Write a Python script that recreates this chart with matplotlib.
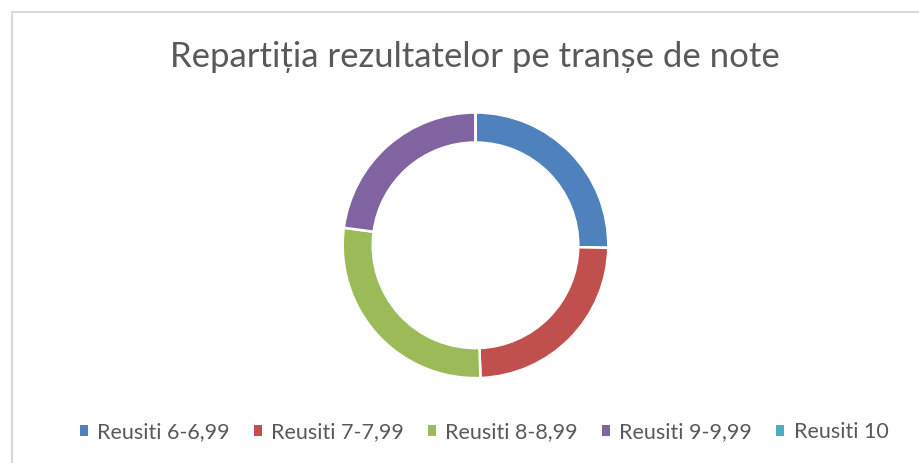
import matplotlib
matplotlib.use("Agg")
import matplotlib.pyplot as plt
from matplotlib.patches import Patch
from matplotlib.lines import Line2D

labels = ["Reusiti 6-6,99", "Reusiti 7-7,99", "Reusiti 8-8,99", "Reusiti 9-9,99", "Reusiti 10"]
values = [21, 20, 23, 19, 0]
colors = ["#4F81BD", "#C0504D", "#9BBB59", "#8064A2", "#4BACC6"]
title = "Repartiția rezultatelor pe tranșe de note"

plt.rcParams['font.family'] = ['Lato', 'DejaVu Sans']

W, H = 919, 463
fig = plt.figure(figsize=(W / 100, H / 100), dpi=100)

# chart frame (only top and left edges visible in the crop)
fig.add_artist(Line2D([12 / W, 1], [1 - 12 / H, 1 - 12 / H], color="#d9d9d9", lw=1.5))
fig.add_artist(Line2D([12 / W, 12 / W], [0, 1 - 12 / H], color="#d9d9d9", lw=1.5))

cx, cy, r = 475.5, 245.3, 132.8
ax = fig.add_axes([(cx - r) / W, (H - cy - r) / H, 2 * r / W, 2 * r / H])
ax.pie(values, colors=colors, startangle=90, counterclock=False, radius=1,
       wedgeprops=dict(width=0.226, edgecolor="white", linewidth=1.8))
ax.set_xlim(-1, 1)
ax.set_ylim(-1, 1)
ax.axis("off")

fig.text(475 / W, 1 - 57 / H, title, ha="center", va="center", fontsize=25, color="#595959")

handles = [Patch(facecolor=c, edgecolor="none") for c in colors]
fig.legend(handles, labels, loc="center", bbox_to_anchor=(484 / W, 1 - 432 / H), ncol=5,
           frameon=False, fontsize=15.5, handlelength=0.39, handleheight=0.39,
           handletextpad=0.43, columnspacing=1.1, labelcolor="#595959")

fig.savefig("out.png", dpi=100)
